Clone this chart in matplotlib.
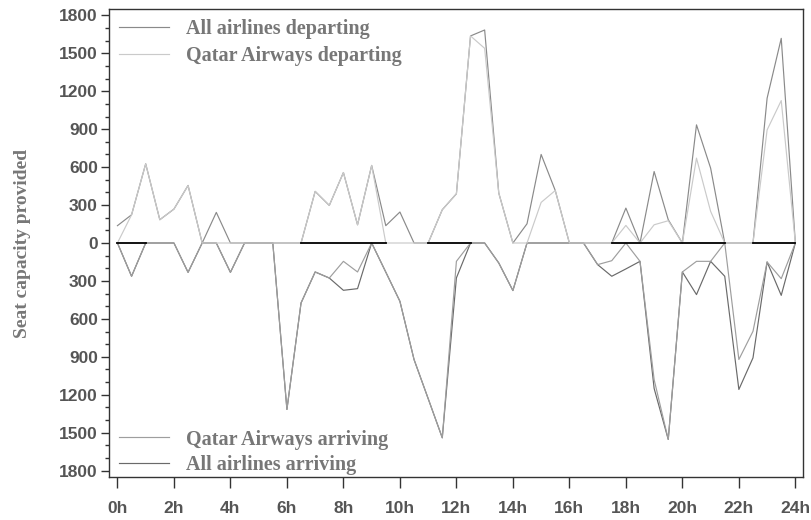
import numpy as np
import matplotlib
matplotlib.use("Agg")
import matplotlib.pyplot as plt
from matplotlib.ticker import FuncFormatter, MultipleLocator

# half-hour slots over the day
hours = [0, 0.5, 1, 1.5, 2, 2.5, 3, 3.5, 4, 4.5, 5, 5.5, 6, 6.5, 7, 7.5, 8, 8.5,
         9, 9.5, 10, 10.5, 11, 11.5, 12, 12.5, 13, 13.5, 14, 14.5, 15, 15.5, 16,
         16.5, 17, 17.5, 18, 18.5, 19, 19.5, 20, 20.5, 21, 21.5, 22, 22.5, 23,
         23.5, 24]

all_departing = [137, 223, 626, 184, 268, 455, 0, 242, 0, 0, 0, 0, 0, 0, 408, 297,
                 557, 144, 613, 137, 245, 0, 0, 263, 389, 1637, 1684, 395, 0, 152,
                 700, 415, 0, 0, 0, 0, 276, 0, 565, 184, 0, 934, 592, 0, 0, 0,
                 1145, 1618, 0]

qatar_departing = [0, 223, 626, 184, 268, 455, 0, 0, 0, 0, 0, 0, 0, 0, 408, 297,
                   557, 144, 613, 0, 0, 0, 0, 263, 389, 1637, 1539, 395, 0, 0,
                   321, 415, 0, 0, 0, 0, 139, 0, 144, 176, 0, 671, 250, 0, 0, 0,
                   894, 1126, 0]

all_arriving = [0, -263, 0, 0, 0, -232, 0, 0, -232, 0, 0, 0, -1316, -474, -229,
                -277, -374, -361, 0, -230, -461, -921, -1230, -1540, -276, 0, 0,
                -158, -376, 0, 0, 0, 0, 0, -171, -263, -205, -145, -1150, -1553,
                -229, -408, -145, -263, -1158, -908, -150, -414, 0]

qatar_arriving = [0, -263, 0, 0, 0, -232, 0, 0, -232, 0, 0, 0, -1316, -474, -229,
                  -277, -145, -229, 0, -230, -461, -921, -1230, -1540, -145, 0, 0,
                  -158, -376, 0, 0, 0, 0, 0, -171, -140, 0, -145, -1080, -1553,
                  -229, -145, -145, 0, -921, -698, -150, -282, 0]

# stretches of the zero line drawn in black
zero_segments = [(0, 1), (6.5, 9.5), (11, 12.5), (17.5, 21.5), (22.5, 24)]

y_ticks = [-1800, -1500, -1200, -900, -600, -300, 0, 300, 600, 900, 1200, 1500, 1800]
x_ticks = list(range(0, 25, 2))
x_labels = [f"{h}h" for h in x_ticks]

TEXT_GREY = "#777777"
TICK_GREY = "#555555"

fig = plt.figure(figsize=(8.12, 5.2), dpi=100)
ax = fig.add_axes([0.1342, 0.0827, 0.8547, 0.9000])

h_dep1, = ax.plot(hours, all_departing, color="#8a8a8a", lw=0.85, label="All airlines departing")
h_arr2, = ax.plot(hours, all_arriving, color="#6a6a6a", lw=0.85, label="All airlines arriving")
h_arr1, = ax.plot(hours, qatar_arriving, color="#9e9e9e", lw=0.85, label="Qatar Airways arriving")
h_dep2, = ax.plot(hours, qatar_departing, color="#cacaca", lw=0.85, label="Qatar Airways departing")

for x0, x1 in zero_segments:
    ax.plot([x0, x1], [0, 0], color="black", lw=1.3, zorder=4)

ax.set_xlim(-0.3, 24.27)
ax.set_ylim(-1850, 1850)
ax.set_xticks(x_ticks)
ax.set_xticklabels(x_labels)
ax.set_yticks(y_ticks)
ax.yaxis.set_minor_locator(MultipleLocator(100))
ax.yaxis.set_major_formatter(FuncFormatter(lambda v, _: f"{abs(int(round(v)))}"))

for s in ax.spines.values():
    s.set_color("#333333")
    s.set_linewidth(1.0)

ax.tick_params(axis="y", which="major", length=6, width=1, color="#333333", pad=2)
ax.tick_params(axis="y", which="minor", length=3, width=1, color="#333333")
ax.tick_params(axis="x", which="major", length=8, width=1, color="#333333", pad=9)
for lab in ax.get_yticklabels() + ax.get_xticklabels():
    lab.set_family("Liberation Sans")
    lab.set_weight("bold")
    lab.set_fontsize(12.5)
    lab.set_color(TICK_GREY)

ax.set_ylabel("Seat capacity provided", family="Liberation Serif", weight="bold",
              fontsize=14, color=TEXT_GREY, labelpad=20)

leg_font = {"family": "Liberation Serif", "weight": "bold", "size": 14.5}
leg1 = ax.legend(handles=[h_dep1, h_dep2], loc="upper left", frameon=False,
                 prop=leg_font, handlelength=2.5, handletextpad=0.8,
                 labelspacing=0.35, borderaxespad=0.0, bbox_to_anchor=(0.003, 0.995))
for t in leg1.get_texts():
    t.set_color(TEXT_GREY)
ax.add_artist(leg1)
leg2 = ax.legend(handles=[h_arr1, h_arr2], loc="lower left", frameon=False,
                 prop=leg_font, handlelength=2.5, handletextpad=0.8,
                 labelspacing=0.25, borderaxespad=0.0, bbox_to_anchor=(0.003, -0.012))
for t in leg2.get_texts():
    t.set_color(TEXT_GREY)

fig.savefig("out.png", dpi=100)
